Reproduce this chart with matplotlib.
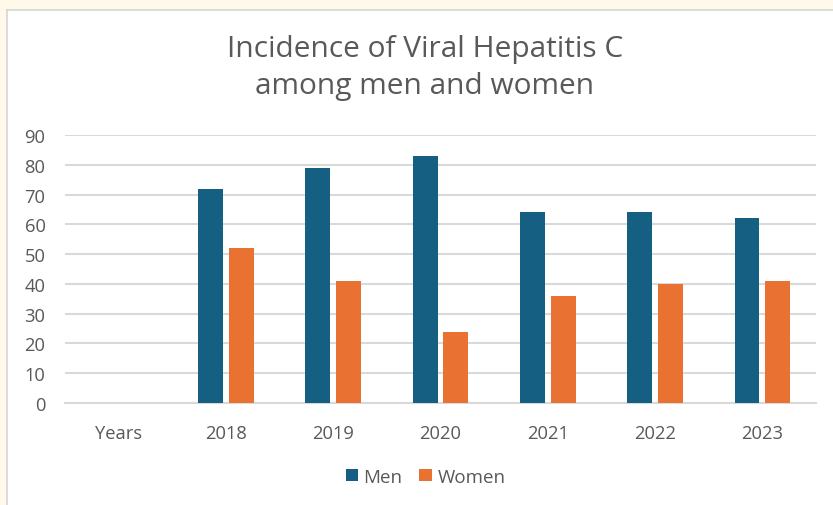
import numpy as np
import matplotlib.pyplot as plt

plt.rcParams["font.family"] = ["Open Sans", "DejaVu Sans"]

categories = ["Years", "2018", "2019", "2020", "2021", "2022", "2023"]
men = [np.nan, 72, 79, 83, 64, 64, 62]
women = [np.nan, 52, 41, 24, 36, 40, 41]

MEN_COLOR = "#156082"
WOMEN_COLOR = "#E97132"
TEXT = "#595959"
GRID = "#D9D9D9"

fig = plt.figure(figsize=(8.33, 5.06), dpi=100)
fig.patch.set_facecolor("#FEF9E9")

# white chart area with thin border
bg = fig.add_axes([7 / 833, -0.05, 1.0, 1 - 11 / 506 + 0.05], zorder=-1)
bg.set_facecolor("white")
bg.set_xticks([])
bg.set_yticks([])
for s in bg.spines.values():
    s.set_color("#D6D6D6")
    s.set_linewidth(1.2)

ax = fig.add_axes([65 / 833, 1 - 404 / 506, (816 - 65) / 833, (404 - 136) / 506])
ax.set_facecolor("none")

x = np.arange(len(categories))
w = 0.232
gap = 0.055
ax.bar(x - (w + gap) / 2, men, width=w, color=MEN_COLOR, label="Men", zorder=3)
ax.bar(x + (w + gap) / 2, women, width=w, color=WOMEN_COLOR, label="Women", zorder=3)

ax.set_xlim(-0.5, len(categories) - 0.5)
ax.set_ylim(0, 90)
ax.set_yticks(range(0, 91, 10))
ax.set_xticks(x)
ax.set_xticklabels(categories)
ax.yaxis.grid(True, color=GRID, linewidth=1.5, zorder=0)
ax.set_axisbelow(True)
for s in ["top", "right", "left"]:
    ax.spines[s].set_visible(False)
ax.spines["bottom"].set_color(GRID)
ax.spines["bottom"].set_linewidth(1.5)
ax.tick_params(axis="both", length=0, colors=TEXT, labelsize=13.2)
ax.tick_params(axis="y", pad=14)
ax.tick_params(axis="x", pad=15)

fig.text(425 / 833, 1 - 68 / 506, "Incidence of Viral Hepatitis C\namong men and women",
         ha="center", va="center", fontsize=21.5, color=TEXT, linespacing=1.4)

ax.legend(loc="center", bbox_to_anchor=(0.48, -0.275), ncol=2, frameon=False,
          fontsize=13.5, handlelength=0.65, handleheight=0.65, handletextpad=0.3,
          columnspacing=0.9, labelcolor=TEXT)

fig.savefig("out.png", dpi=100, facecolor=fig.get_facecolor())
